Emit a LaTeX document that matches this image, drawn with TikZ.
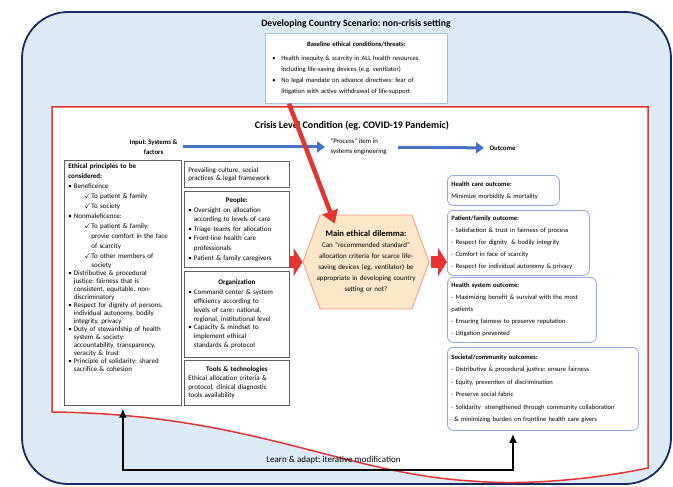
\documentclass[tikz,border=0pt]{standalone}
\usepackage{fontspec}
\setmainfont{Carlito}
\usepackage{amssymb}
\usetikzlibrary{arrows.meta,positioning,shapes.symbols}
\frenchspacing

\definecolor{skyfill}{RGB}{221,235,247}
\definecolor{navy}{RGB}{28,42,98}
\definecolor{framered}{RGB}{232,52,48}
\definecolor{arrowblue}{RGB}{68,114,196}
\definecolor{outline}{RGB}{143,170,220}
\definecolor{baseline}{RGB}{157,195,230}
\definecolor{hexfill}{RGB}{252,232,200}
\definecolor{hexline}{RGB}{244,150,130}

\newcommand{\bl}{\makebox[5.5pt][l]{\textbullet}}
\newcommand{\ph}{\hspace*{5.5pt}}
\newcommand{\ck}{\hspace*{16pt}\makebox[7pt][l]{$\checkmark$}}
\newcommand{\cph}{\hspace*{23pt}}
\newcommand{\midhead}[1]{\makebox[97pt]{\textbf{#1}}}

\begin{document}
\begin{tikzpicture}[x=1pt,y=-1pt,
  pbox/.style={draw=gray!75!black, line width=.7pt, fill=white, anchor=north west, align=left,
    inner xsep=4pt, inner ysep=3pt, text width=97pt, font=\fontsize{7}{8.8}\selectfont},
  obox/.style={draw=outline, line width=.8pt, rounded corners=6pt, fill=white, anchor=north west,
    align=left, inner xsep=4pt, inner ysep=3pt, font=\fontsize{6.6}{12}\selectfont},
  hexa/.style={signal, signal to=east and west, signal pointer angle=140, fill=hexfill, draw=hexline,
    line width=.8pt, minimum width=126pt, minimum height=94pt, align=center, text width=110pt,
    inner xsep=-10pt, inner ysep=2pt, font=\fontsize{7}{11}\selectfont},
  blarr/.style={arrowblue, line width=3pt, -{Triangle[length=8pt,width=11pt]}},
  fatarr/.style={framered, line width=12pt, -{Triangle[length=9pt,width=28pt]}},
  redarr/.style={framered, line width=4.5pt, -{Triangle[length=13pt,width=16pt]}},
  fback/.style={line width=2.5pt, {Latex[length=9pt,width=8pt]}-{Latex[length=9pt,width=8pt]}}
]
\useasboundingbox (0,0) rectangle (673,487);

% non-crisis setting and crisis frame
\draw[navy, line width=1.8pt, fill=skyfill, rounded corners=46pt] (22,12) rectangle (671,484);
\draw[framered, line width=1.5pt, fill=white] (52,107) -- (648,107) -- (648,468)
  .. controls (600,478) and (530,486) .. (472,481)
  .. controls (345,474) and (250,414) .. (52,412) -- cycle;

\node[font=\bfseries\fontsize{9.7}{12}\selectfont] (scen) at (356,24) {Developing Country Scenario: non-crisis setting};
\node[draw=baseline, line width=.7pt, fill=white, anchor=north west, align=left, text width=174pt,
  minimum height=70pt, inner xsep=4pt, font=\fontsize{6.6}{11}\selectfont] (base) at (265,33)
  {\makebox[174pt]{\textbf{Baseline ethical conditions/threats:}}\\[3pt]
   \hspace*{3pt}\makebox[9pt][l]{\textbullet}Health inequity \& scarcity in ALL health resources,\\
   \hspace*{12pt}including life-saving devices (e.g. ventilator)\\
   \hspace*{3pt}\makebox[9pt][l]{\textbullet}No legal mandate on advance directives: fear of\\
   \hspace*{12pt}litigation with active withdrawal of life-support};

\node[font=\bfseries\fontsize{10}{11}\selectfont] (crisis) at (352,126) {Crisis Level Condition (eg. COVID-19 Pandemic)};
\node[font=\bfseries\fontsize{6.8}{10}\selectfont, align=center, anchor=east] (input) at (181,147) {Input: Systems \&\\factors};
\node[font=\fontsize{6.8}{10}\selectfont, align=left, anchor=west] (process) at (327,147) {``Process'' item in\\systems engineering};
\node[font=\bfseries\fontsize{6.8}{10}\selectfont, anchor=west] (outcome) at (486,148) {Outcome};

% input column
\node[pbox, text width=109pt, font=\fontsize{7}{8}\selectfont] (ethic) at (64,160)
  {\textbf{Ethical principles to be}\\[2pt]
   \textbf{considered:}\\[2pt]
   \bl Beneficence\\[2pt]
   \ck To patient \& family\\[2pt]
   \ck To society\\[2pt]
   \bl Nonmaleficence:\\[2pt]
   \ck To patient \& family:\\[2pt]
   \cph provie comfort in the face\\[2pt]
   \cph of scarcity\\[2pt]
   \ck To other members of\\[1pt]
   \cph society\\
   \bl Distributive \& procedural\\
   \ph justice: fairness that is\\
   \ph consistent, equitable, non-\\
   \ph discriminatory\\
   \bl Respect for dignity of persons,\\
   \ph individual autonomy, bodily\\
   \ph integrity, privacy\\
   \bl Duty of stewardship of health\\
   \ph system \& society:\\
   \ph accountability, transparency,\\
   \ph veracity \& trust\\
   \bl Principle of solidarity: shared\\
   \ph sacrifice \& cohesion\\[23pt]~};

\node[pbox, minimum height=26pt, font=\fontsize{7}{8.2}\selectfont] (culture) at (184,161)
  {Prevailing culture, social\\practices \& legal framework};
\node[pbox, minimum height=76pt, font=\fontsize{7}{9.6}\selectfont] (people) at (184,191)
  {\midhead{People:}\\
   \bl Oversight on allocation\\
   \ph according to levels of care\\
   \bl Triage teams for allocation\\
   \bl Front-line health care\\
   \ph professionals\\
   \bl Patient \& family caregivers};
\node[pbox, minimum height=86pt] (orga) at (184,271)
  {\midhead{Organization}\\[1pt]
   \bl Command center \& system\\
   \ph efficiency according to\\
   \ph levels of care: national,\\
   \ph regional, institutional level\\
   \bl Capacity \& mindset to\\
   \ph implement ethical\\
   \ph standards \& protocol};
\node[pbox, minimum height=45pt] (tools) at (184,360)
  {\midhead{Tools \& technologies}\\
   Ethical allocation criteria \&\\
   protocol, clinical diagnostic\\
   tools availability};

% process
\node[hexa] (dilemma) at (366,262)
  {{\bfseries\fontsize{8.6}{11}\selectfont Main ethical dilemma:}\\
   Can ``recommended standard''\\
   allocation criteria for scarce life-\\
   saving devices (eg. ventilator) be\\
   appropriate in developing country\\
   setting or not?};

% outcomes
\node[obox, text width=104pt, minimum height=30pt] (care) at (447,175)
  {\textbf{Health care outcome:}\\
   Minimize morbidity \& mortality};
\node[obox, text width=134pt, minimum height=65pt] (patient) at (447,210)
  {\textbf{Patient/family outcome:}\\
   - Satisfaction \& trust in fairness of process\\
   - Respect for dignity\ \ \& bodily integrity\\
   - Comfort in face of scarcity\\
   - Respect for individual autonomy \& privacy};
\node[obox, text width=141pt, minimum height=65pt] (hsys) at (447,277)
  {\textbf{Health system outcome:}\\
   - Maximizing benefit \& survival with the most\\
   patients\\
   - Ensuring fairness to preserve reputation\\
   - Litigation prevented};
\node[obox, text width=183pt, minimum height=83pt, font=\fontsize{6.6}{12.5}\selectfont] (soc) at (447,347)
  {\textbf{Societal/community outcomes:}\\
   - Distributive \& procedural justice: ensure fairness\\
   - Equity, prevention of discrimination\\
   - Preserve social fabric\\
   - Solidarity\ \ strengthened through community collaboration\\
   \hspace*{3pt}\& minimizing burden on frontline health care givers};

% connectors
\draw[blarr, shorten <=2pt, shorten >=2pt] (input) -- (process);
\draw[blarr, shorten <=8pt, shorten >=2pt] (process) -- (outcome);
\draw[redarr] ([xshift=24pt]base.south west) -- ([xshift=15pt,yshift=-9pt]dilemma.north west);
\draw[fatarr] (people.east |- dilemma.west) -- (dilemma.west);
\draw[fatarr, shorten <=2pt] (dilemma.east) -- (dilemma.east -| patient.west);

\coordinate (loopR) at (513,470);
\draw[fback] ([yshift=-3pt]ethic.south) |- (loopR)
  node[pos=0.77, above=1pt, font=\fontsize{9}{11}\selectfont] (learn) {Learn \& adapt: iterative modification}
  -- ([yshift=-3pt]soc.south -| loopR);
\end{tikzpicture}
\end{document}
